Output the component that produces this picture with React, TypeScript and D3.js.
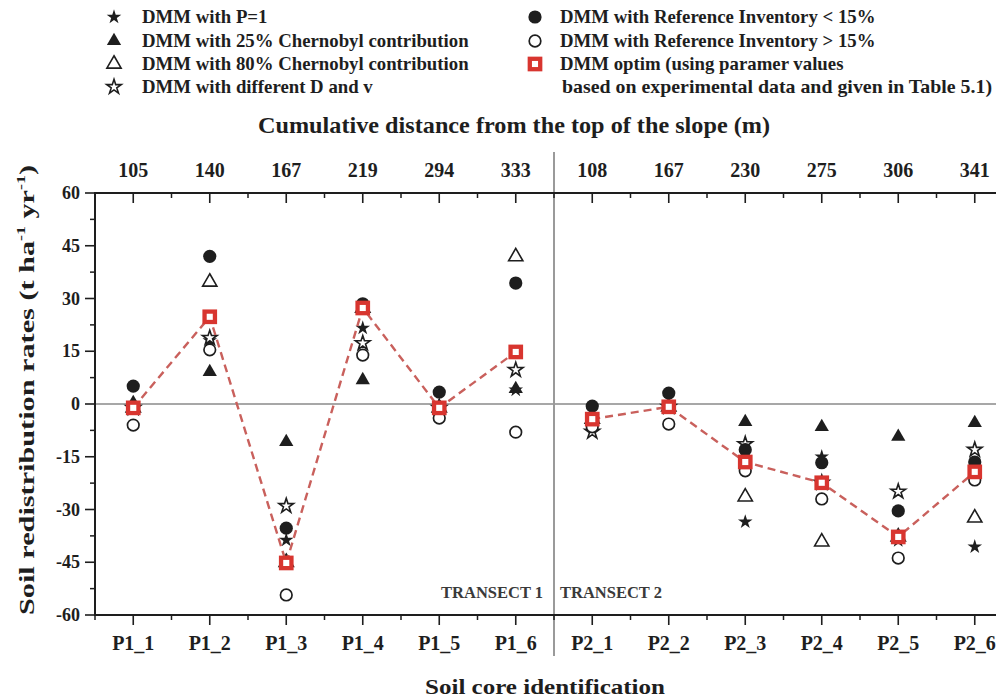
import React from 'react'
import * as d3 from 'd3'

const categories = ['P1_1', 'P1_2', 'P1_3', 'P1_4', 'P1_5', 'P1_6', 'P2_1', 'P2_2', 'P2_3', 'P2_4', 'P2_5', 'P2_6']
const distances = ['105', '140', '167', '219', '294', '333', '108', '167', '230', '275', '306', '341']
const yTicks = [-60, -45, -30, -15, 0, 15, 30, 45, 60]

// one value per soil core
const starFilled = [0, 18, -38.7, 21.6, -0.8, 4, -3.5, -0.8, -33.5, -15, -38.8, -40.6]
const triFilled = [0.3, 9.1, -10.8, 6.8, -0.8, 4.3, -3.5, -0.8, -5.1, -6.5, -9.3, -5.4]
const triOpen = [-1.1, 34.7, -45, 27.3, -1.1, 41.9, -4.3, -0.8, -26.4, -39.2, -37.8, -32.4]
const starOpen = [-1.1, 18.8, -29, 17.3, -1.1, 9.7, -7.9, -0.8, -11.4, -22.4, -24.9, -13]
const circleFilled = [5.1, 42, -35.3, 28.5, 3.4, 34.4, -0.6, 3.1, -13, -16.7, -30.4, -16.5]
const circleOpen = [-6, 15.4, -54.3, 13.9, -4, -8, -6.5, -5.7, -19, -27, -43.8, -21.6]
const optim = [-1.1, 24.8, -45.2, 27.3, -1.1, 14.8, -4.3, -0.8, -16.5, -22.4, -37.8, -19.3]

const W = 996
const H = 698
const left = 95
const top = 193
const bottom = 615
const font = '"Liberation Serif", "Times New Roman", serif'
const ink = '#1e1e1e'
const red = '#d8352f'
const dashRed = '#c9605c'

const x = d3.scalePoint<string>().domain(categories).range([left, left + 76.5 * 12]).padding(0.5)
const y = d3.scaleLinear().domain([-60, 60]).range([bottom, top])

const starPath = d3.symbol().type(d3.symbolStar).size(66)()
const triPath = d3.symbol().type(d3.symbolTriangle).size(88)()

function Marker({ kind, cx, cy }: { kind: string; cx: number; cy: number }) {
  const t = `translate(${cx},${cy})`
  switch (kind) {
    case 'starFilled':
      return <path d={starPath!} transform={t} fill={ink} />
    case 'starOpen':
      return <path d={starPath!} transform={t} fill='#fff' stroke={ink} strokeWidth={1.6} />
    case 'triFilled':
      return <path d={triPath!} transform={t} fill={ink} />
    case 'triOpen':
      return <path d={triPath!} transform={t} fill='#fff' stroke={ink} strokeWidth={1.6} />
    case 'circleFilled':
      return <circle cx={cx} cy={cy} r={6.6} fill={ink} />
    case 'circleOpen':
      return <circle cx={cx} cy={cy} r={5.8} fill='#fff' stroke={ink} strokeWidth={1.7} />
    default:
      return <rect x={cx - 5.2} y={cy - 5.2} width={10.4} height={10.4} fill='#fff' stroke={red} strokeWidth={4.3} />
  }
}

const series: [string, number[]][] = [
  ['triOpen', triOpen],
  ['starFilled', starFilled],
  ['triFilled', triFilled],
  ['starOpen', starOpen],
  ['circleOpen', circleOpen],
  ['circleFilled', circleFilled],
]

const legendLeft: [string, string][] = [
  ['starFilled', 'DMM with P=1'],
  ['triFilled', 'DMM with 25% Chernobyl contribution'],
  ['triOpen', 'DMM with 80% Chernobyl contribution'],
  ['starOpen', 'DMM with different D and v'],
]
const legendRight: [string, string][] = [
  ['circleFilled', 'DMM with Reference Inventory < 15%'],
  ['circleOpen', 'DMM with Reference Inventory > 15%'],
  ['square', 'DMM optim (using paramer values'],
]

export default function App() {
  const step = x.step()
  const divider = x('P1_6')! + step / 2
  const right = left + step * 12
  const minorX = categories.map((c) => x(c)! + step / 2)
  const minorY = d3.range(-52.5, 60, 15)
  const line = d3.line<number>().x((_, i) => x(categories[i])!).y((d) => y(d))
  const line2 = d3.line<number>().x((_, i) => x(categories[i + 6])!).y((d) => y(d))
  const rowY = [17, 41, 64, 87]
  const lf = 18.8

  return (
    <svg width={W} height={H} style={{ position: 'absolute', left: 0, top: 0, background: '#fff' }} fontFamily={font}>
      {/* legend */}
      {legendLeft.map(([k, label], i) => (
        <g key={k}>
          <Marker kind={k} cx={114} cy={rowY[i]} />
          <text x={142} y={rowY[i] + 6} fontSize={lf} fontWeight='bold' fill={ink}>{label}</text>
        </g>
      ))}
      {legendRight.map(([k, label], i) => (
        <g key={k}>
          <Marker kind={k} cx={535} cy={rowY[i]} />
          <text x={560} y={rowY[i] + 6} fontSize={lf} fontWeight='bold' fill={ink}>{label}</text>
        </g>
      ))}
      <text x={562} y={rowY[3] + 6} fontSize={lf} fontWeight='bold' fill={ink} textLength={430} lengthAdjust='spacingAndGlyphs'>
        based on experimental data and given in Table 5.1)
      </text>

      <text x={514} y={133} textAnchor='middle' fontSize={23} fontWeight='bold' fill={ink} textLength={512} lengthAdjust='spacingAndGlyphs'>
        Cumulative distance from the top of the slope (m)
      </text>

      {/* zero line and divider */}
      <line x1={left} x2={right} y1={y(0)} y2={y(0)} stroke='#8a8a8a' strokeWidth={1.6} />
      <line x1={divider} x2={divider} y1={152} y2={656} stroke='#9a9a9a' strokeWidth={2} />

      {/* axes */}
      <line x1={left} x2={right} y1={top} y2={top} stroke={ink} strokeWidth={2} />
      <line x1={left} x2={right} y1={bottom} y2={bottom} stroke={ink} strokeWidth={2} />
      <line x1={left} x2={left} y1={top - 1} y2={bottom + 1} stroke={ink} strokeWidth={2} />
      {categories.map((c, i) => (
        <g key={c}>
          <line x1={x(c)} x2={x(c)} y1={top} y2={top + 10} stroke={ink} strokeWidth={1.6} />
          <line x1={x(c)} x2={x(c)} y1={bottom} y2={bottom + 10} stroke={ink} strokeWidth={1.6} />
          <text x={x(c)} y={177} textAnchor='middle' fontSize={20} fontWeight='bold' fill={ink}>{distances[i]}</text>
          <text x={x(c)} y={650} textAnchor='middle' fontSize={20} fontWeight='bold' fill={ink}>{c}</text>
        </g>
      ))}
      {[left, ...minorX].map((m, i) => (
        <g key={i}>
          <line x1={m} x2={m} y1={top} y2={top + 5} stroke={ink} strokeWidth={1.5} />
          <line x1={m} x2={m} y1={bottom} y2={bottom + 5} stroke={ink} strokeWidth={1.5} />
        </g>
      ))}
      {yTicks.map((v) => (
        <g key={v}>
          <line x1={left - 10} x2={left} y1={y(v)} y2={y(v)} stroke={ink} strokeWidth={1.6} />
          <text x={80} y={y(v) + 6} textAnchor='end' fontSize={18} fontWeight='bold' fill={ink}>{v}</text>
        </g>
      ))}
      {minorY.map((v) => (
        <line key={v} x1={left - 5} x2={left} y1={y(v)} y2={y(v)} stroke={ink} strokeWidth={1.5} />
      ))}

      <text x={543} y={598} textAnchor='end' fontSize={16.5} fontWeight='bold' fill='#3a3a3a'>TRANSECT 1</text>
      <text x={560} y={598} fontSize={16.5} fontWeight='bold' fill='#3a3a3a'>TRANSECT 2</text>

      {/* points */}
      {series.map(([k, vals]) =>
        vals.map((v, i) => <Marker key={k + i} kind={k} cx={x(categories[i])!} cy={y(v)} />)
      )}
      <path d={line(optim.slice(0, 6))!} fill='none' stroke={dashRed} strokeWidth={2.4} strokeDasharray='8 5' />
      <path d={line2(optim.slice(6))!} fill='none' stroke={dashRed} strokeWidth={2.4} strokeDasharray='8 5' />
      {optim.map((v, i) => <Marker key={'sq' + i} kind='square' cx={x(categories[i])!} cy={y(v)} />)}

      <text transform={`translate(34,390) rotate(-90)`} textAnchor='middle' fontSize={22} fontWeight='bold' fill={ink} textLength={450} lengthAdjust='spacingAndGlyphs'>
        Soil redistribution rates (t ha<tspan dy={-9} fontSize={13}>-1</tspan><tspan dy={9}> yr</tspan><tspan dy={-9} fontSize={13}>-1</tspan><tspan dy={9}>)</tspan>
      </text>
      <text x={545} y={694} textAnchor='middle' fontSize={22} fontWeight='bold' fill={ink} textLength={240} lengthAdjust='spacingAndGlyphs'>Soil core identification</text>
    </svg>
  )
}
